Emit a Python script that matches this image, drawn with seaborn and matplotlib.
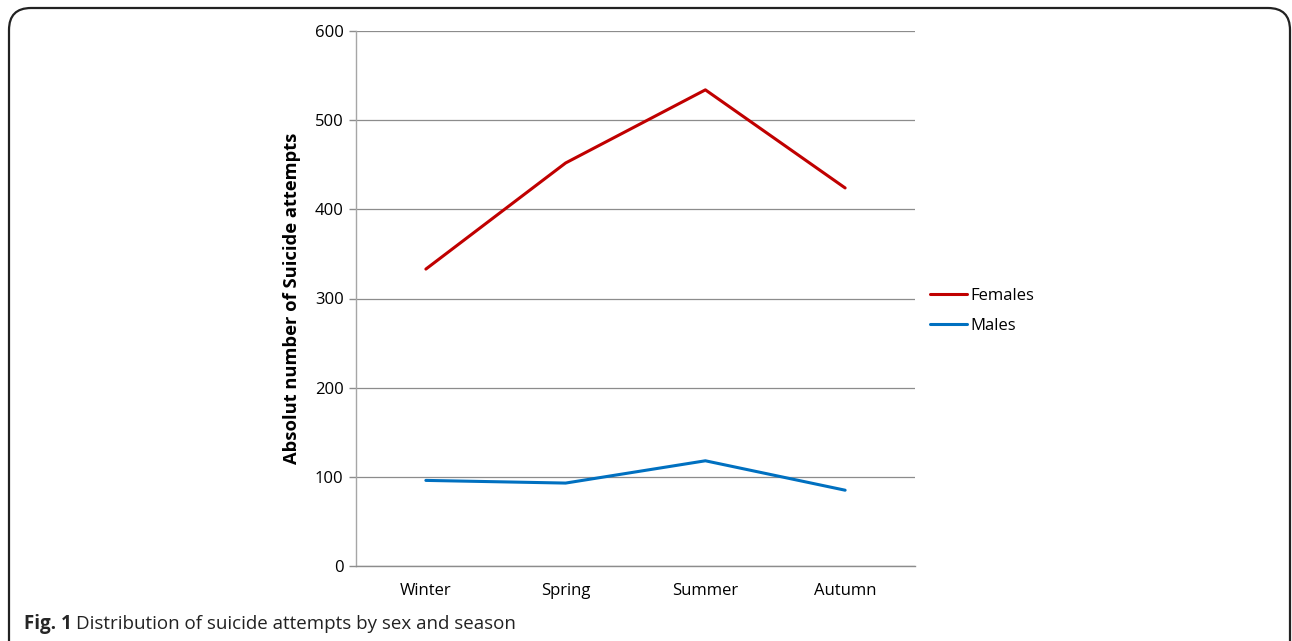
import pandas as pd
import numpy as np
import matplotlib.pyplot as plt
import seaborn as sns
from matplotlib.patches import FancyBboxPatch
from matplotlib.transforms import IdentityTransform

# data
seasons = ["Winter", "Spring", "Summer", "Autumn"]
females = [333, 452, 534, 424]
males = [96, 93, 118, 85]

df = pd.DataFrame({
    "Season": seasons * 2,
    "Attempts": females + males,
    "Sex": ["Females"] * 4 + ["Males"] * 4,
})

sns.set_theme(style="white")
plt.rcParams["font.family"] = ["Open Sans", "DejaVu Sans"]

W, H = 1292, 641
fig = plt.figure(figsize=(W / 100, H / 100), dpi=100)
ax = fig.add_axes([356 / W, 1 - 566 / H, (915 - 356) / W, (566 - 31) / H])

sns.lineplot(
    data=df, x="Season", y="Attempts", hue="Sex",
    palette={"Females": "#C00000", "Males": "#0070C0"},
    linewidth=2.2, ax=ax, sort=False,
)

ax.set_ylim(0, 600)
ax.set_yticks(np.arange(0, 601, 100))
ax.set_xlim(-0.5, 3.5)
ax.yaxis.grid(True, color="#8c8c8c", linewidth=0.9)
ax.set_axisbelow(True)
for s in ["top", "right"]:
    ax.spines[s].set_visible(False)
ax.spines["left"].set_color("#a6a6a6")
ax.spines["bottom"].set_color("#8c8c8c")
ax.spines["left"].set_linewidth(1.0)
ax.spines["bottom"].set_linewidth(1.0)

ax.set_xticks(range(4))
ax.set_xticks(np.arange(-0.5, 3.6, 1), minor=True)
ax.tick_params(axis="x", which="major", length=0, pad=12, labelsize=12, colors="#000000")
ax.tick_params(axis="x", which="minor", length=5, width=1, color="#8c8c8c", direction="out")
ax.tick_params(axis="y", length=5, width=1, color="#8c8c8c", direction="out", pad=4,
               labelsize=12, left=True, labelcolor="#000000")

ax.set_xlabel("")
ax.set_ylabel("Absolut number of Suicide attempts", fontsize=13.2, fontweight="bold",
              labelpad=10, color="#000000")

leg = ax.legend(frameon=False, loc="center left", bbox_to_anchor=(915 / W, 1 - 311 / H),
                bbox_transform=fig.transFigure, fontsize=12, handlelength=2.2,
                handletextpad=0.2, labelspacing=0.85)
for line in leg.get_lines():
    line.set_linewidth(2.2)
for t in leg.get_texts():
    t.set_color("#000000")

# caption
fig.text(24 / W, 1 - 624 / H, "Fig. 1", fontsize=13.5, fontweight="bold", va="center")
fig.text(76 / W, 1 - 624 / H, "Distribution of suicide attempts by sex and season",
         fontsize=13.5, va="center", color="#222222")

# rounded frame around the figure, in pixel coordinates
frame = FancyBboxPatch((9, -60), 1290 - 9, (H - 8) + 60,
                       boxstyle="round,pad=0,rounding_size=22",
                       transform=IdentityTransform(), fill=False,
                       edgecolor="#222222", linewidth=1.6)
fig.patches.append(frame)

fig.savefig("out.png", dpi=100)
